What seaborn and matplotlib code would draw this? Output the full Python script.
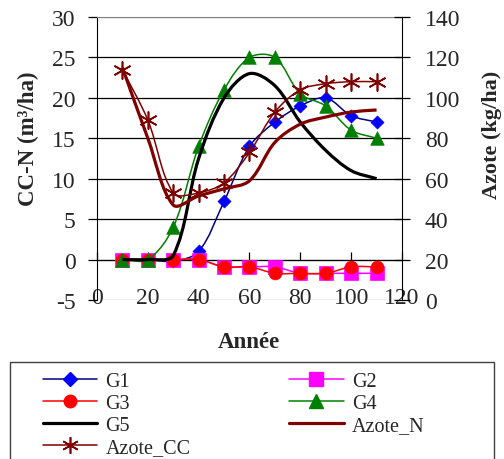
import numpy as np
import matplotlib
matplotlib.use("Agg")
import matplotlib.pyplot as plt
from matplotlib.path import Path
from matplotlib.patches import PathPatch, Rectangle
from matplotlib.lines import Line2D
import seaborn as sns

# data
years = [10, 20, 30, 40, 50, 60, 70, 80, 90, 100, 110]
g1 = [0, 0, -0.2, 1.0, 7.2, 14.0, 17.0, 19.0, 20.0, 17.8, 17.0]
g2 = [0, 0, 0, 0, -0.9, -0.9, -0.9, -1.7, -1.7, -1.7, -1.7]
g3 = [0, 0, 0, 0, -0.9, -0.9, -1.7, -1.7, -1.7, -0.9, -0.9]
g4 = [0, 0, 4.0, 14.0, 21.0, 25.0, 25.0, 20.5, 19.0, 16.0, 15.0]
g5 = [0, 0, 0.5, 12.5, 20.0, 23.0, 21.5, 17.0, 13.5, 11.0, 10.0]
azote_n = [115, 80, 47, 51.5, 55, 59, 78, 87, 90.5, 93, 94]
azote_cc = [114, 89, 53, 53, 58, 73, 93, 104, 107, 108, 108]

left_ticks = list(range(-5, 31, 5))
right_ticks = list(range(0, 141, 20))
x_ticks = list(range(0, 121, 20))

navy = '#000080'
blue = '#0000FF'
magenta = '#FF00FF'
red = '#FF0000'
green = '#008000'
darkred = '#800000'
star = (6, 2, 0)

# pixels per data unit, used only to weigh the smoothing like excel does
PX_X = 305 / 120
PX_LEFT = 283 / 35
PX_RIGHT = 283 / 140


def smooth_path(x, y, sy, k=1 / 3):
    # smoothed line: bezier segments through every point, tangents
    # weighted by the on-screen length of the neighbouring segments
    p = np.column_stack([x, y]).astype(float)
    ext = np.vstack([p[0], p, p[-1]])
    scale = np.array([PX_X, sy])
    d = np.hypot(*((np.diff(ext, axis=0)) * scale).T)
    verts = [p[0]]
    codes = [Path.MOVETO]
    for i in range(len(p) - 1):
        d0, d1, d2 = d[i], d[i + 1], d[i + 2]
        c1 = p[i] + k * (ext[i + 2] - ext[i]) * d1 / (d0 + d1)
        c2 = p[i + 1] - k * (ext[i + 3] - ext[i + 1]) * d1 / (d1 + d2)
        verts += [c1, c2, p[i + 1]]
        codes += [Path.CURVE4] * 3
    return Path(verts, codes)


def draw_series(ax, y, sy, line_color, lw, marker=None, mcolor=None, size=0, z=2):
    ax.add_patch(PathPatch(smooth_path(years, y, sy), fill=False,
                           edgecolor=line_color, lw=lw, zorder=z))
    if marker is not None:
        if marker == star:
            sns.scatterplot(x=years, y=y, marker=marker, s=size, color=mcolor,
                            linewidth=1.2, ax=ax, zorder=z + 0.5, legend=False)
        else:
            sns.scatterplot(x=years, y=y, marker=marker, s=size, color=mcolor,
                            edgecolor=mcolor, linewidth=0.5, ax=ax,
                            zorder=z + 0.5, legend=False)


sns.set_style('white')
plt.rcParams['font.family'] = ['Liberation Serif', 'DejaVu Serif']
plt.rcParams['axes.unicode_minus'] = False

fig = plt.figure(figsize=(5.04, 4.6), dpi=100)
ax = fig.add_axes([97 / 504, 1 - 301 / 460, (402 - 97) / 504, (301 - 18) / 460])
ax2 = ax.twinx()

draw_series(ax, g1, PX_LEFT, navy, 1.1, 'D', blue, 44, z=3)
draw_series(ax, g2, PX_LEFT, magenta, 1.1, 's', magenta, 100, z=4)
draw_series(ax, g3, PX_LEFT, red, 1.1, 'o', red, 85, z=5)
draw_series(ax, g4, PX_LEFT, green, 1.1, '^', green, 95, z=6)
draw_series(ax, g5, PX_LEFT, 'black', 2.3, z=7)
draw_series(ax2, azote_n, PX_RIGHT, darkred, 2.3, z=3)
draw_series(ax2, azote_cc, PX_RIGHT, darkred, 1.1, star, darkred, 150, z=4)

ax.set_xlim(0, 120)
ax.set_ylim(-5, 30)
ax2.set_ylim(0, 140)
ax.set_xticks(x_ticks)
ax.set_yticks(left_ticks)
ax2.set_yticks(right_ticks)

ax.grid(axis='y', color='black', lw=0.9)
ax.grid(axis='x', visible=False)
gl = ax.get_ygridlines()
gl[0].set_color('#808080')
gl[-1].set_color('#808080')

ax.spines['bottom'].set_position(('data', 0))
ax.spines['bottom'].set_color('black')
ax.spines['left'].set_color('black')
ax.spines['top'].set_color('#808080')
ax.spines['right'].set_visible(False)
for s in ['left', 'top', 'bottom']:
    ax2.spines[s].set_visible(False)
ax2.spines['right'].set_color('black')

ax.tick_params(axis='x', bottom=True, direction='in', length=6, width=0.9,
               pad=20, labelsize=17, color='black')
ax.tick_params(axis='y', left=True, direction='out', length=6.5, width=0.9,
               pad=9, labelsize=17, color='black')
ax2.tick_params(axis='y', right=True, direction='inout', length=11, width=0.9,
                pad=11, labelsize=17, color='black')

ax.set_ylabel('CC-N (m³/ha)', fontsize=16.5, fontweight='bold', va='center')
ax.yaxis.set_label_coords(-0.225, 0.572)
ax2.set_ylabel('Azote (kg/ha)', fontsize=16, fontweight='bold', va='center')
ax2.yaxis.set_label_coords(1.295, 0.587)
fig.text(249 / 504, 1 - 343 / 460, 'Année', ha='center', va='center',
         fontsize=16.5, fontweight='bold')

# legend, laid out row by row like the original
h = {
    'G1': Line2D([], [], color=navy, lw=1.1, marker='D', ms=7, mfc=blue, mec=blue),
    'G2': Line2D([], [], color=magenta, lw=1.1, marker='s', ms=10, mfc=magenta, mec=magenta),
    'G3': Line2D([], [], color=red, lw=1.1, marker='o', ms=9, mfc=red, mec=red),
    'G4': Line2D([], [], color=green, lw=1.1, marker='^', ms=10, mfc=green, mec=green),
    'G5': Line2D([], [], color='black', lw=2.3),
    'Azote_N': Line2D([], [], color=darkred, lw=2.3),
    'Azote_CC': Line2D([], [], color=darkred, lw=1.1, marker=star, ms=12, mew=1.2),
}
order = ['G1', 'G3', 'G5', 'Azote_CC', 'G2', 'G4', 'Azote_N']
fig.legend([h[k] for k in order], order, ncol=2, loc='upper left',
           bbox_to_anchor=(43 / 504, 1 - 373 / 460), bbox_transform=fig.transFigure,
           frameon=False, fontsize=14.5, borderpad=0, handlelength=2.7,
           handletextpad=0.4, columnspacing=4.9, labelspacing=0.14,
           borderaxespad=0)
fig.patches.append(Rectangle((10 / 504, -0.05), (494 - 10) / 504, 1 - 363 / 460 + 0.05,
                             transform=fig.transFigure, fill=False,
                             edgecolor='#404040', lw=1))

fig.savefig('out.png', dpi=100)
